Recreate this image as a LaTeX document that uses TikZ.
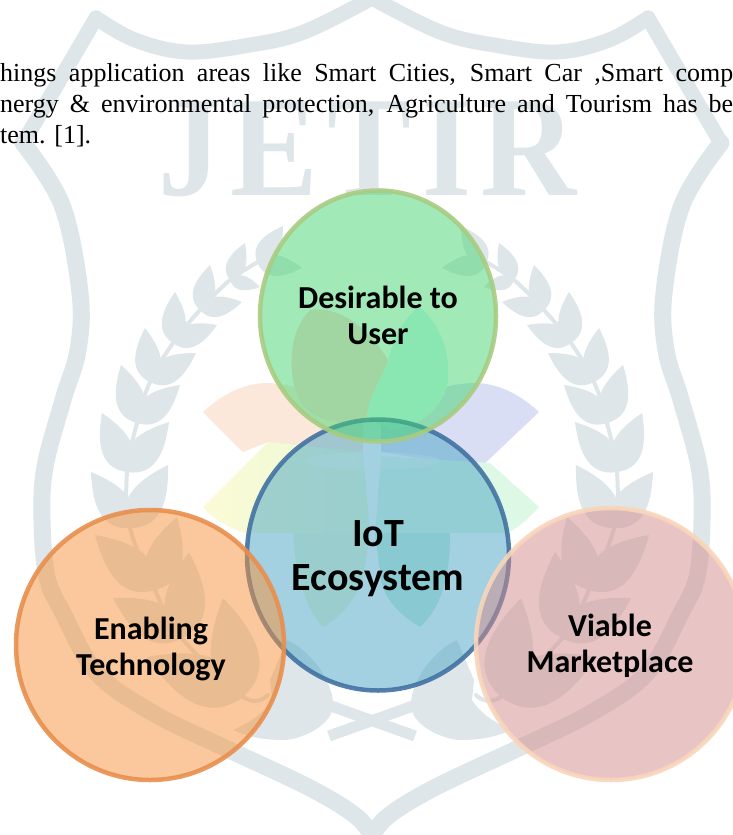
\documentclass[tikz,border=0pt]{standalone}
\usepackage{graphicx}
\usepackage{fontspec}
\usetikzlibrary{shapes.geometric}
\setmainfont{Liberation Serif}
\newfontfamily\labelfont{Carlito}
\definecolor{wm}{HTML}{DEE6E9}
\definecolor{pOrange}{HTML}{FBE8DA}
\definecolor{pLav}{HTML}{D9DEF4}
\definecolor{pYel}{HTML}{FCFAD6}
\definecolor{pYelG}{HTML}{E8FBD6}
\definecolor{pGreen}{HTML}{DDF9E6}
\definecolor{pOlive}{HTML}{FFD9D6}
\definecolor{pTeal}{HTML}{D3FBF2}
\definecolor{pLeafG}{HTML}{EBF8D8}
\definecolor{pLeafT}{HTML}{C8F0E0}
\definecolor{cGreen}{HTML}{45D571}
\definecolor{cBlue}{HTML}{4BA5C5}
\definecolor{cOrange}{HTML}{F7933B}
\definecolor{cPink}{HTML}{D38B8B}
\definecolor{lGreen}{HTML}{A8CC82}
\definecolor{lBlue}{HTML}{4272A2}
\definecolor{lOrange}{HTML}{E88F4E}
\definecolor{lPink}{HTML}{F9D5BB}
\tikzset{
  bodyline/.style={font=\fontsize{26}{26}\selectfont, inner sep=0pt, anchor=base west},
  wmletter/.style={text=wm, inner sep=0pt, anchor=base, font=\bfseries\fontsize{143}{143}\selectfont},
  wmline/.style={draw=wm, line cap=round, line join=round},
  bubble/.style={ellipse, inner sep=0pt, line width=4.5pt, fill opacity=.5, draw opacity=.9},
  small label/.style={inner sep=0pt, align=center, text=black, font=\labelfont\bfseries\fontsize{32}{36}\selectfont},
  big label/.style={inner sep=0pt, align=center, text=black, font=\labelfont\bfseries\fontsize{40}{44}\selectfont}
}
\newcommand{\leaf}[5]{% base x,y, tip x,y, width factor
  \pgfmathsetmacro{\dx}{#3-#1}
  \pgfmathsetmacro{\dy}{#4-#2}
  \fill[wm] (#1,#2)
    .. controls ({#1+.25*\dx-#5*\dy},{#2+.25*\dy+#5*\dx})
            and ({#1+.70*\dx-.45*#5*\dy},{#2+.70*\dy+.45*#5*\dx})
    .. (#3,#4)
    .. controls ({#1+.70*\dx+.45*#5*\dy},{#2+.70*\dy-.45*#5*\dx})
            and ({#1+.25*\dx+#5*\dy},{#2+.25*\dy-#5*\dx})
    .. cycle;
}
\newcommand{\halfmark}{%
  \draw[wmline, line width=15pt] plot[smooth, tension=.6] coordinates {(372,-2) (304,32) (250,45) (187,52) (135,40) (96,18)};
  \draw[wmline, line width=15pt] (96,18) -- (23,143);
  \draw[wmline, line width=17pt] plot[smooth, tension=.6] coordinates {(23,143) (62,205) (80,293) (78,350) (63,400) (45,467) (42,520) (47,577) (63,613) (97,673) (153,713) (223,747) (310,788) (357,817) (374,840)};
  \draw[wmline, line width=4pt] plot[smooth, tension=.6] coordinates {(258,262) (230,280) (200,310) (173,343) (150,382) (137,423) (127,472) (130,528) (155,590) (180,636) (243,697) (268,695)};
  \leaf{258}{264}{283}{226}{.42}\leaf{258}{264}{302}{268}{.42}
  \leaf{230}{280}{245}{243}{.42}\leaf{230}{280}{260}{287}{.42}
  \leaf{200}{310}{210}{265}{.42}\leaf{200}{310}{242}{302}{.42}
  \leaf{173}{343}{175}{292}{.42}\leaf{173}{343}{217}{325}{.42}
  \leaf{150}{382}{145}{328}{.42}\leaf{150}{382}{196}{353}{.42}
  \leaf{137}{423}{121}{365}{.42}\leaf{137}{423}{180}{385}{.42}
  \leaf{127}{472}{102}{413}{.42}\leaf{127}{472}{169}{422}{.42}
  \leaf{130}{528}{91}{472}{.42}\leaf{130}{528}{168}{465}{.42}
  \leaf{155}{590}{95}{535}{.42}\leaf{155}{590}{177}{517}{.42}
  \leaf{182}{638}{113}{598}{.42}\leaf{182}{638}{189}{552}{.42}
  \leaf{243}{697}{147}{657}{.42}\leaf{243}{697}{223}{598}{.42}
  \fill[wm] (287,640) .. controls (310,650) and (332,680) .. (333,703)
     .. controls (335,725) and (300,740) .. (283,740)
     .. controls (265,740) and (248,737) .. (233,730)
     .. controls (250,722) and (262,715) .. (272,700) -- (270,680) -- cycle;
  \draw[wmline, line width=11pt, line cap=butt] (331,706) -- (415,736);
}
\begin{document}
\begin{tikzpicture}[x=1pt,y=-1pt]
\useasboundingbox (0,0) rectangle (733,835);
\clip (0,0) rectangle (733,835);
\fill[white] (0,0) rectangle (733,835);
% watermark shield and laurel
\halfmark
\begin{scope}[shift={(744,0)},xscale=-1]
  \halfmark
\end{scope}
% watermark letters
\node[wmletter] (wmJ) at (190,195) {\scalebox{.88}[1]{J}};
\node[wmletter] (wmE) at (274,195) {\scalebox{.92}[1]{E}};
\node[wmletter] (wmT) at (369,195) {\scalebox{.88}[1]{T}};
\node[wmletter] (wmI) at (447,195) {\scalebox{.88}[1]{I}};
\node[wmletter] (wmR) at (529,195) {\scalebox{.93}[1]{R}};
% watermark emblem
\fill[pOrange] (203,412) .. controls (225,392) and (245,384) .. (265,383) .. controls (300,383) and (340,400) .. (363,425) -- (363,452) -- (300,452) -- (268,442) -- (243,452) -- cycle;
\fill[pLav] (539,412) .. controls (517,392) and (497,384) .. (477,383) .. controls (440,383) and (400,400) .. (381,425) -- (381,452) -- (480,468) -- cycle;
\shade[left color=pYel, right color=pYelG] (203,507) -- (268,442) -- (363,452) -- (370,533) -- (245,533) .. controls (225,527) and (212,517) .. (203,507) -- cycle;
\fill[pGreen] (539,507) -- (490,463) -- (381,456) -- (375,533) -- (507,533) .. controls (520,527) and (530,517) .. (539,507) -- cycle;
\fill[white, fill opacity=.4] (372,461) ellipse [x radius=68, y radius=9];
\fill[pLeafG] (293,533) -- (370,533) -- (363,580) .. controls (355,600) and (340,618) .. (323,627) .. controls (305,610) and (295,570) .. (293,533) -- cycle;
\fill[pLeafT] (375,533) -- (450,533) .. controls (451,575) and (440,610) .. (420,627) .. controls (400,615) and (385,600) .. (381,580) -- cycle;
\fill[pOlive] (310,310) .. controls (285,335) and (288,385) .. (303,405) .. controls (320,425) and (350,425) .. (367,417) .. controls (370,390) and (385,375) .. (388,360) .. controls (370,330) and (340,305) .. (310,310) -- cycle;
\fill[pTeal] (420,307) .. controls (440,325) and (450,350) .. (448,380) .. controls (445,405) and (425,425) .. (390,430) -- (367,417) .. controls (370,390) and (385,375) .. (388,360) .. controls (395,335) and (405,315) .. (420,307) -- cycle;
% body text
\node[bodyline] (line1) at (0,81) {\makebox[733pt][s]{hings application areas like Smart Cities, Smart Car ,Smart comp}};
\node[bodyline] (line2) at (0,112) {\makebox[733pt][s]{nergy \& environmental protection, Agriculture and Tourism has be}};
\node[bodyline] (line3) at (0,143) {tem. [1].};
% circles
\node[bubble, minimum width=262pt, minimum height=271pt, draw=lBlue, fill=cBlue] (iot) at (378,555) {};
\node[bubble, minimum width=236pt, minimum height=251pt, draw=lGreen, fill=cGreen] (user) at (378,316) {};
\node[bubble, minimum width=268pt, minimum height=270pt, draw=lOrange, fill=cOrange] (tech) at (150,645) {};
\node[bubble, minimum width=270pt, minimum height=272pt, draw=lPink, fill=cPink] (market) at (611,644) {};
% circle labels
\node[big label] (iotText) at (378,559) {IoT\\Ecosystem};
\node[small label] (userText) at (378,315) {Desirable to\\User};
\node[small label] (techText) at (151,648.5) {Enabling\\Technology};
\node[small label] (marketText) at (610,646) {Viable\\Marketplace};
\end{tikzpicture}
\end{document}
